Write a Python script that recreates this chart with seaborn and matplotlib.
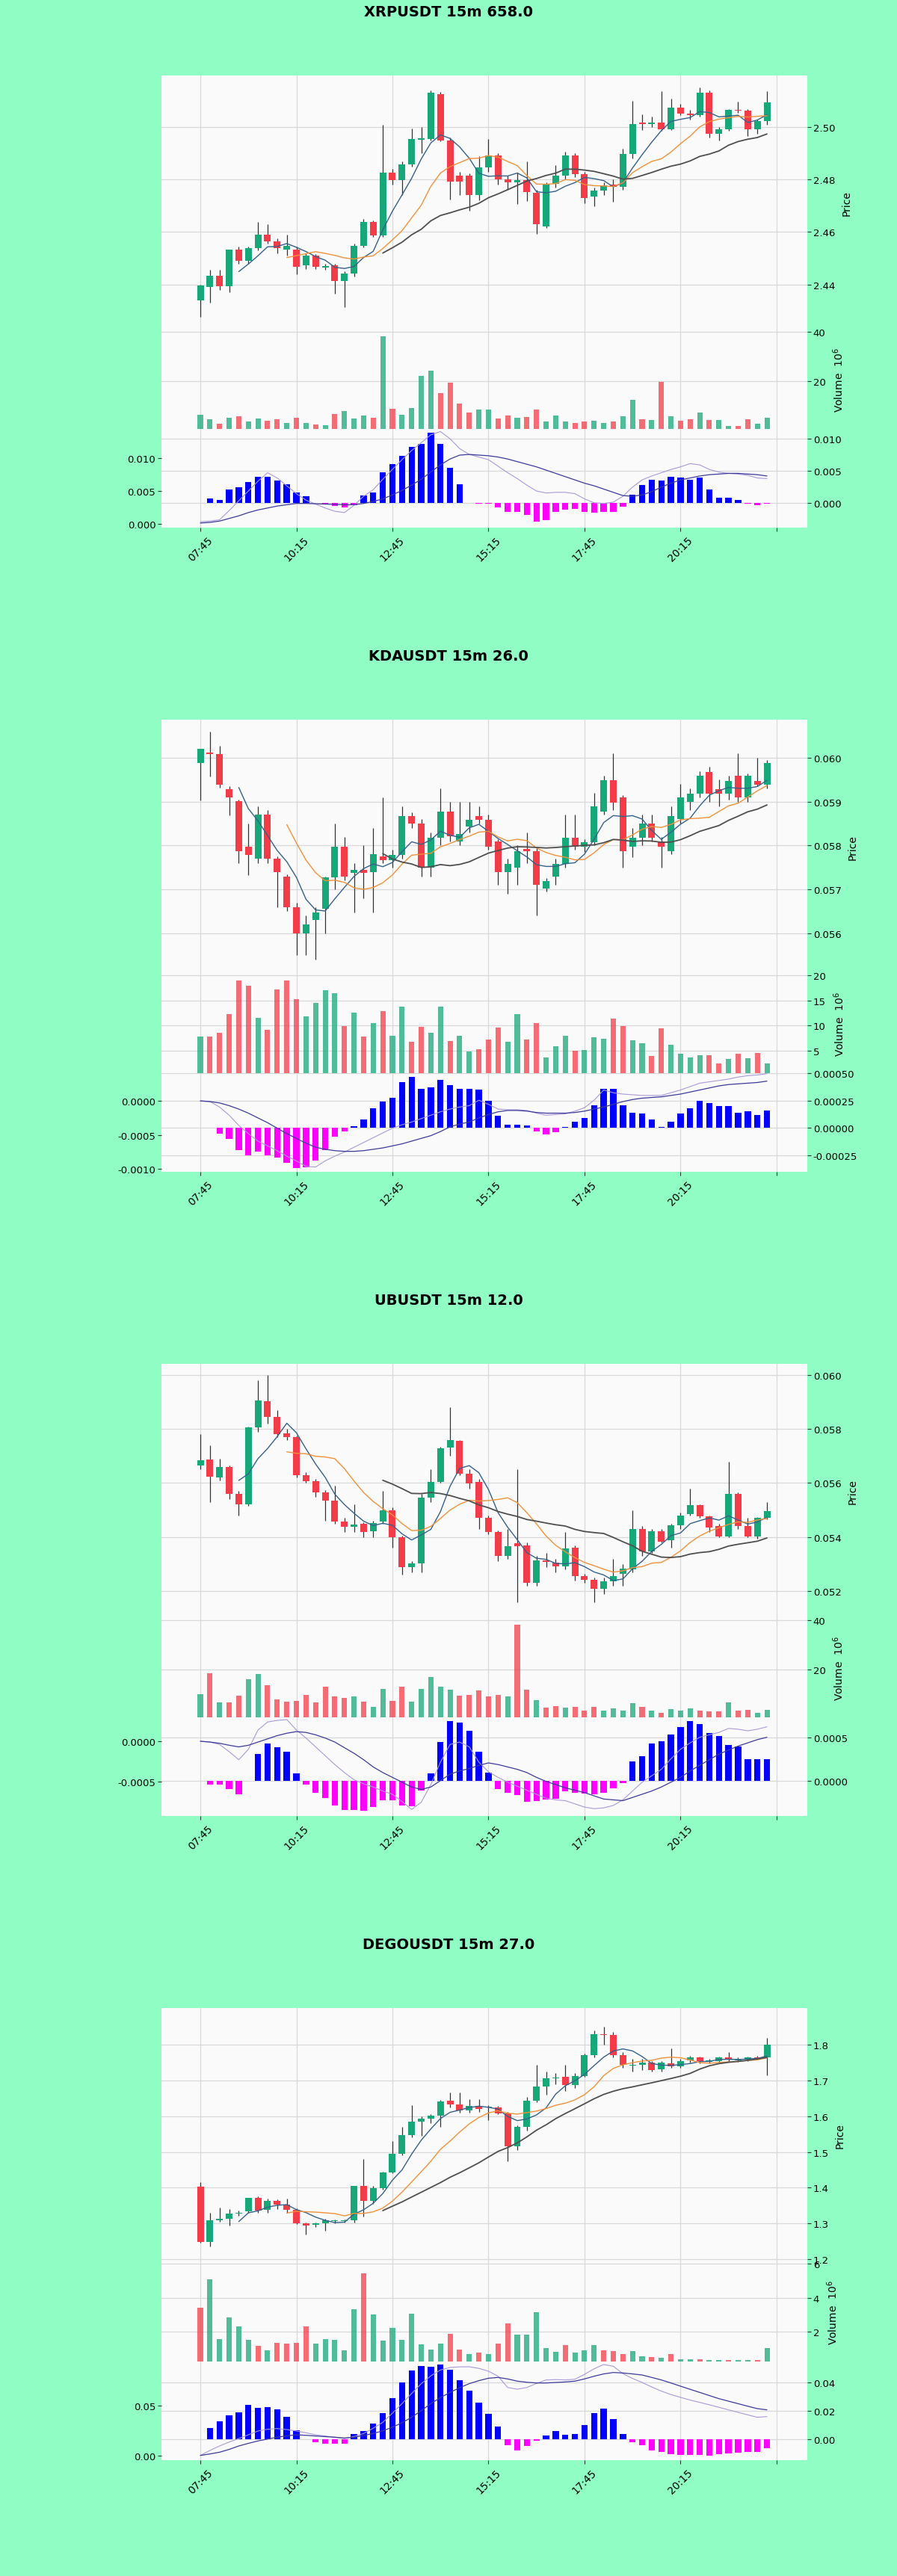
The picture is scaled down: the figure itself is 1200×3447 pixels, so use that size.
import numpy as np
import pandas as pd
import seaborn as sns
import matplotlib.pyplot as plt
from matplotlib.ticker import FormatStrFormatter

# Farben
BG = '#90fdc4'
PANEL = '#fafafa'
UP = '#17a87a'
DOWN = '#f23c47'
MA_COLORS = ['#35608a', '#f0913a', '#4f4f4f']
MACD_LIGHT = '#ab98d8'
MACD_DARK = '#3c3a99'

time_ticks = [0, 10, 20, 30, 40, 50, 60]
time_labels = ['07:45', '10:15', '12:45', '15:15', '17:45', '20:15', '']

# ---------------- XRPUSDT ----------------
xrp_open = [2.4338, 2.4390, 2.4433, 2.4392, 2.4534, 2.4491, 2.4539, 2.4591, 2.4563, 2.4534,
            2.4534, 2.4472, 2.4510, 2.4465, 2.4472, 2.4414, 2.4443, 2.4548, 2.4639, 2.4587,
            2.4826, 2.4797, 2.4859, 2.4953, 2.4955, 2.5127, 2.4950, 2.4816, 2.4816, 2.4740,
            2.4845, 2.4893, 2.4802, 2.4788, 2.4797, 2.4749, 2.4620, 2.4783, 2.4816, 2.4893,
            2.4820, 2.4735, 2.4759, 2.4780, 2.4773, 2.4898, 2.5017, 2.5013, 2.5017, 2.4993,
            2.5075, 2.5051, 2.5046, 2.5132, 2.4974, 2.4993, 2.5065, 2.5063, 2.4993, 2.5022]
xrp_high = [2.4400, 2.4455, 2.4455, 2.4534, 2.4545, 2.4545, 2.4639, 2.4630, 2.4575, 2.4590,
            2.4545, 2.4520, 2.4515, 2.4480, 2.4480, 2.4450, 2.4555, 2.4650, 2.4645, 2.5008,
            2.4840, 2.4870, 2.4995, 2.5000, 2.5140, 2.5135, 2.4960, 2.4830, 2.4825, 2.4890,
            2.4955, 2.4900, 2.4815, 2.4826, 2.4869, 2.4760, 2.4790, 2.4855, 2.4905, 2.4900,
            2.4830, 2.4770, 2.4790, 2.4800, 2.4917, 2.5100, 2.5050, 2.5040, 2.5137, 2.5110,
            2.5090, 2.5065, 2.5150, 2.5140, 2.5000, 2.5070, 2.5097, 2.5070, 2.5030, 2.5137]
xrp_low = [2.4276, 2.4330, 2.4380, 2.4370, 2.4480, 2.4480, 2.4530, 2.4555, 2.4520, 2.4510,
           2.4440, 2.4460, 2.4460, 2.4455, 2.4366, 2.4314, 2.4430, 2.4540, 2.4580, 2.4580,
           2.4780, 2.4740, 2.4850, 2.4900, 2.4950, 2.4945, 2.4725, 2.4740, 2.4682, 2.4720,
           2.4830, 2.4780, 2.4760, 2.4707, 2.4717, 2.4592, 2.4615, 2.4770, 2.4800, 2.4810,
           2.4711, 2.4697, 2.4740, 2.4716, 2.4760, 2.4880, 2.4990, 2.5000, 2.4985, 2.4990,
           2.5045, 2.5030, 2.5040, 2.4960, 2.4950, 2.4985, 2.5055, 2.4965, 2.4975, 2.5010]
xrp_close = [2.4395, 2.4433, 2.4392, 2.4534, 2.4491, 2.4539, 2.4591, 2.4563, 2.4539, 2.4548,
             2.4467, 2.4510, 2.4467, 2.4470, 2.4414, 2.4443, 2.4548, 2.4639, 2.4587, 2.4826,
             2.4797, 2.4859, 2.4955, 2.4956, 2.5132, 2.4950, 2.4792, 2.4792, 2.4740, 2.4845,
             2.4893, 2.4802, 2.4788, 2.4797, 2.4751, 2.4630, 2.4783, 2.4816, 2.4893, 2.4820,
             2.4730, 2.4759, 2.4778, 2.4773, 2.4898, 2.5012, 2.5013, 2.5017, 2.4993, 2.5075,
             2.5051, 2.5046, 2.5132, 2.4974, 2.4993, 2.5065, 2.5063, 2.4993, 2.5022, 2.5094]
xrp_vol = [6.4, 4.5, 2.6, 5.2, 5.7, 3.6, 4.7, 3.9, 4.5, 2.9,
           5.2, 2.9, 2.4, 2.1, 6.8, 7.8, 4.9, 6.0, 5.2, 38.2,
           8.8, 6.4, 9.1, 22.0, 24.1, 15.1, 19.5, 10.9, 7.3, 8.6,
           8.6, 4.9, 6.0, 5.2, 5.4, 8.6, 3.6, 6.0, 3.6, 3.1,
           3.6, 3.9, 3.1, 3.6, 5.7, 12.3, 4.5, 4.2, 19.7, 5.7,
           3.9, 4.5, 7.3, 4.2, 4.2, 1.9, 1.9, 4.5, 2.6, 5.2]
# MACD-Werte in Einheiten von 1e-3
xrp_hist = np.array([np.nan, 0.78, 0.5, 2.1, 2.5, 3.3, 4.1, 4.1, 3.5, 3.0,
                     1.7, 1.1, 0.05, -0.05, -0.47, -0.7, -0.3, 1.2, 1.7, 4.8,
                     6.1, 7.4, 8.8, 9.2, 11.0, 9.2, 5.5, 2.9, 0.0, -0.1,
                     -0.1, -0.7, -1.4, -1.4, -1.8, -2.9, -2.6, -1.4, -1.0, -0.9,
                     -1.4, -1.5, -1.4, -1.4, -0.5, 1.3, 2.8, 3.6, 3.5, 4.1,
                     4.0, 3.6, 4.0, 2.1, 0.8, 0.8, 0.5, -0.1, -0.3, -0.1]) * 1e-3
xrp_macd = np.array([0.3, 0.4, 0.6, 2.0, 3.5, 5.0, 6.5, 7.8, 7.0, 5.8,
                     4.6, 3.6, 3.0, 2.4, 1.9, 1.7, 2.8, 4.2, 5.2, 6.8,
                     8.3, 9.8, 11.2, 12.4, 13.6, 14.1, 13.0, 11.5, 10.6, 10.2,
                     9.8, 8.8, 7.8, 6.9, 5.9, 5.0, 4.7, 4.8, 4.8, 4.6,
                     3.8, 3.2, 3.1, 3.3, 4.2, 5.6, 6.7, 7.3, 7.8, 8.3,
                     8.7, 9.2, 9.0, 8.3, 7.9, 7.7, 7.6, 7.4, 7.0, 6.9]) * 1e-3
xrp_signal = np.array([0.1, 0.2, 0.4, 0.8, 1.2, 1.7, 2.1, 2.4, 2.7, 2.9,
                       3.1, 3.1, 3.05, 3.0, 2.95, 2.9, 2.9, 3.1, 3.4, 3.8,
                       4.4, 5.1, 5.9, 6.8, 7.9, 9.0, 9.9, 10.5, 10.6, 10.5,
                       10.4, 10.2, 9.9, 9.5, 9.1, 8.7, 8.2, 7.7, 7.2, 6.7,
                       6.2, 5.8, 5.3, 4.8, 4.3, 4.2, 4.4, 4.9, 5.6, 6.2,
                       6.7, 7.0, 7.3, 7.5, 7.6, 7.7, 7.7, 7.6, 7.5, 7.3]) * 1e-3

# ---------------- KDAUSDT ----------------
kda_open = [0.05989, 0.06012, 0.06009, 0.05929, 0.05901, 0.05798, 0.05770, 0.05870, 0.05770, 0.05730,
            0.05659, 0.05600, 0.05630, 0.05656, 0.05727, 0.05798, 0.05738, 0.05745, 0.05739, 0.05775,
            0.05767, 0.05778, 0.05868, 0.05850, 0.05750, 0.05818, 0.05878, 0.05810, 0.05844, 0.05868,
            0.05858, 0.05810, 0.05739, 0.05750, 0.05792, 0.05787, 0.05702, 0.05730, 0.05759, 0.05818,
            0.05798, 0.05808, 0.05878, 0.05949, 0.05909, 0.05798, 0.05818, 0.05850, 0.05810, 0.05787,
            0.05861, 0.05900, 0.05919, 0.05968, 0.05929, 0.05919, 0.05959, 0.05909, 0.05947, 0.05939]
kda_high = [0.06020, 0.06060, 0.06028, 0.05935, 0.05905, 0.05850, 0.05890, 0.05880, 0.05775, 0.05735,
            0.05670, 0.05640, 0.05660, 0.05730, 0.05850, 0.05820, 0.05760, 0.05800, 0.05840, 0.05910,
            0.05790, 0.05890, 0.05875, 0.05860, 0.05830, 0.05930, 0.05900, 0.05900, 0.05900, 0.05890,
            0.05870, 0.05815, 0.05770, 0.05800, 0.05830, 0.05795, 0.05725, 0.05770, 0.05870, 0.05870,
            0.05815, 0.05920, 0.05960, 0.06010, 0.05915, 0.05840, 0.05870, 0.05870, 0.05820, 0.05890,
            0.05940, 0.05930, 0.05970, 0.05980, 0.05950, 0.05960, 0.06010, 0.05965, 0.06000, 0.05995]
kda_low = [0.05903, 0.05957, 0.05932, 0.05869, 0.05760, 0.05733, 0.05760, 0.05760, 0.05660, 0.05650,
           0.05551, 0.05551, 0.05540, 0.05600, 0.05700, 0.05720, 0.05648, 0.05680, 0.05648, 0.05760,
           0.05750, 0.05770, 0.05840, 0.05730, 0.05730, 0.05800, 0.05810, 0.05800, 0.05830, 0.05850,
           0.05790, 0.05710, 0.05690, 0.05710, 0.05760, 0.05640, 0.05695, 0.05710, 0.05750, 0.05790,
           0.05785, 0.05800, 0.05870, 0.05880, 0.05750, 0.05773, 0.05800, 0.05810, 0.05750, 0.05780,
           0.05850, 0.05880, 0.05910, 0.05900, 0.05890, 0.05905, 0.05900, 0.05900, 0.05935, 0.05930]
kda_close = [0.06020, 0.06008, 0.05938, 0.05909, 0.05787, 0.05778, 0.05870, 0.05770, 0.05739, 0.05659,
             0.05600, 0.05620, 0.05648, 0.05727, 0.05798, 0.05730, 0.05745, 0.05737, 0.05780, 0.05767,
             0.05778, 0.05868, 0.05850, 0.05750, 0.05818, 0.05878, 0.05821, 0.05827, 0.05858, 0.05858,
             0.05798, 0.05739, 0.05759, 0.05787, 0.05787, 0.05710, 0.05719, 0.05759, 0.05818, 0.05798,
             0.05808, 0.05889, 0.05949, 0.05898, 0.05787, 0.05818, 0.05850, 0.05818, 0.05798, 0.05868,
             0.05909, 0.05919, 0.05959, 0.05919, 0.05919, 0.05947, 0.05909, 0.05959, 0.05939, 0.05989]
kda_vol = [7.8, 7.8, 8.5, 12.2, 19.0, 17.9, 11.5, 9.2, 17.2, 19.0,
           15.3, 11.8, 14.5, 17.0, 16.4, 9.9, 12.5, 7.8, 10.5, 12.9,
           8.0, 13.8, 6.8, 9.8, 8.6, 13.8, 6.9, 7.9, 4.8, 5.3,
           7.2, 9.6, 6.7, 12.3, 7.2, 10.4, 3.7, 5.8, 7.9, 4.9,
           5.1, 7.6, 7.4, 11.4, 9.9, 7.1, 6.5, 3.9, 9.4, 6.2,
           4.3, 3.7, 4.1, 4.1, 2.5, 3.3, 4.3, 3.5, 4.5, 2.5]
# MACD-Werte in Einheiten von 1e-4
kda_hist = np.array([np.nan, 0.0, -0.5, -1.0, -2.0, -2.5, -2.2, -2.5, -2.7, -3.2,
                     -3.7, -3.6, -3.0, -2.0, -0.8, -0.3, 0.14, 0.75, 1.8, 2.4,
                     2.8, 4.2, 4.7, 3.6, 3.7, 4.4, 3.9, 3.6, 3.6, 3.5,
                     2.5, 1.1, 0.3, 0.3, 0.2, -0.3, -0.6, -0.4, 0.1, 0.6,
                     0.9, 2.1, 3.6, 3.6, 2.1, 1.4, 1.3, 0.75, 0.1, 0.6,
                     1.3, 1.8, 2.5, 2.3, 2.0, 2.0, 1.4, 1.5, 1.2, 1.6]) * 1e-4
kda_macd = np.array([0.0, -0.1, -0.9, -2.1, -3.6, -4.8, -5.9, -6.6, -7.3, -8.1,
                     -8.8, -9.6, -9.7, -8.8, -8.1, -7.5, -6.8, -6.1, -5.4, -4.7,
                     -4.0, -3.5, -3.1, -2.6, -2.1, -1.6, -1.2, -0.9, -0.7, 0.1,
                     -0.5, -1.2, -1.3, -1.3, -1.4, -1.8, -2.1, -2.0, -1.9, -1.5,
                     -1.0, 0.1, 1.6, 1.2, 1.0, 0.9, 0.8, 0.8, 0.8, 1.2,
                     1.6, 2.1, 2.6, 2.8, 3.0, 3.2, 3.5, 3.7, 3.8, 4.0]) * 1e-4
kda_signal = np.array([0.0, -0.1, -0.3, -0.7, -1.2, -1.8, -2.5, -3.2, -4.0, -4.8,
                       -5.5, -6.2, -6.8, -7.1, -7.3, -7.4, -7.4, -7.3, -7.1, -6.9,
                       -6.6, -6.3, -5.9, -5.5, -5.1, -4.5, -3.8, -3.4, -3.1, -2.5,
                       -2.0, -1.6, -1.4, -1.4, -1.5, -1.7, -1.8, -1.8, -1.8, -1.7,
                       -1.5, -1.2, -0.9, -0.5, -0.1, 0.2, 0.4, 0.5, 0.6, 0.8,
                       1.0, 1.3, 1.6, 1.9, 2.2, 2.4, 2.5, 2.6, 2.7, 2.9]) * 1e-4

# ---------------- UBUSDT ----------------
ub_open = [0.05665, 0.05688, 0.05621, 0.05658, 0.05561, 0.05521, 0.05806, 0.05903, 0.05845, 0.05785,
           0.05769, 0.05629, 0.05608, 0.05564, 0.05535, 0.05458, 0.05437, 0.05449, 0.05421, 0.05458,
           0.05500, 0.05400, 0.05289, 0.05304, 0.05547, 0.05603, 0.05730, 0.05756, 0.05635, 0.05603,
           0.05472, 0.05418, 0.05329, 0.05376, 0.05370, 0.05232, 0.05315, 0.05306, 0.05292, 0.05361,
           0.05255, 0.05241, 0.05209, 0.05237, 0.05264, 0.05280, 0.05430, 0.05347, 0.05421, 0.05389,
           0.05444, 0.05486, 0.05518, 0.05477, 0.05440, 0.05403, 0.05560, 0.05440, 0.05403, 0.05472]
ub_high = [0.05780, 0.05740, 0.05690, 0.05665, 0.05570, 0.05810, 0.05980, 0.06000, 0.05870, 0.05800,
           0.05775, 0.05640, 0.05615, 0.05575, 0.05590, 0.05470, 0.05520, 0.05455, 0.05460, 0.05570,
           0.05510, 0.05405, 0.05310, 0.05560, 0.05650, 0.05735, 0.05880, 0.05760, 0.05650, 0.05615,
           0.05480, 0.05425, 0.05430, 0.05650, 0.05380, 0.05330, 0.05340, 0.05320, 0.05420, 0.05370,
           0.05265, 0.05250, 0.05250, 0.05320, 0.05300, 0.05500, 0.05440, 0.05430, 0.05430, 0.05450,
           0.05490, 0.05580, 0.05520, 0.05480, 0.05450, 0.05680, 0.05565, 0.05470, 0.05475, 0.05530]
ub_low = [0.05650, 0.05530, 0.05610, 0.05540, 0.05480, 0.05515, 0.05790, 0.05820, 0.05770, 0.05760,
          0.05620, 0.05600, 0.05550, 0.05460, 0.05450, 0.05420, 0.05420, 0.05400, 0.05400, 0.05450,
          0.05360, 0.05260, 0.05270, 0.05270, 0.05530, 0.05600, 0.05700, 0.05630, 0.05580, 0.05430,
          0.05410, 0.05310, 0.05320, 0.05160, 0.05220, 0.05220, 0.05290, 0.05270, 0.05280, 0.05240,
          0.05230, 0.05160, 0.05190, 0.05220, 0.05220, 0.05270, 0.05330, 0.05340, 0.05380, 0.05360,
          0.05430, 0.05480, 0.05470, 0.05420, 0.05400, 0.05400, 0.05430, 0.05400, 0.05395, 0.05465]
ub_close = [0.05684, 0.05624, 0.05658, 0.05561, 0.05521, 0.05806, 0.05905, 0.05845, 0.05782, 0.05769,
            0.05629, 0.05608, 0.05564, 0.05535, 0.05458, 0.05437, 0.05447, 0.05418, 0.05453, 0.05500,
            0.05400, 0.05289, 0.05304, 0.05547, 0.05603, 0.05728, 0.05758, 0.05635, 0.05598, 0.05472,
            0.05418, 0.05329, 0.05366, 0.05366, 0.05232, 0.05315, 0.05308, 0.05292, 0.05357, 0.05255,
            0.05241, 0.05209, 0.05237, 0.05255, 0.05283, 0.05430, 0.05347, 0.05421, 0.05384, 0.05444,
            0.05481, 0.05518, 0.05477, 0.05435, 0.05403, 0.05560, 0.05440, 0.05403, 0.05472, 0.05495]
ub_vol = [9.9, 18.3, 6.5, 6.5, 9.2, 16.0, 18.1, 13.5, 7.7, 6.9,
          7.2, 9.7, 6.7, 12.9, 8.9, 8.5, 8.9, 7.0, 4.6, 11.9,
          7.2, 13.0, 7.0, 12.1, 16.8, 12.9, 11.7, 9.2, 9.7, 11.4,
          9.1, 9.5, 9.0, 38.0, 11.7, 7.4, 4.4, 4.9, 4.3, 4.6,
          3.1, 4.6, 3.1, 4.1, 3.3, 6.2, 4.6, 3.2, 2.4, 3.8,
          3.3, 4.0, 3.1, 2.9, 2.9, 6.7, 3.1, 3.5, 2.4, 3.5]
ub_hist = np.array([np.nan, -0.4, -0.4, -0.9, -1.5, 0.0, 3.1, 4.3, 3.9, 3.4,
                    0.9, -0.4, -1.3, -1.9, -2.8, -3.3, -3.3, -3.4, -3.0, -2.2,
                    -2.2, -2.8, -2.9, -1.1, 0.9, 4.5, 6.9, 6.7, 5.8, 3.4,
                    1.0, -0.9, -1.3, -1.6, -2.4, -2.3, -2.1, -2.0, -1.2, -1.3,
                    -1.4, -1.5, -1.3, -0.8, -0.2, 2.3, 2.9, 4.3, 4.6, 5.4,
                    6.2, 6.9, 6.6, 5.5, 5.2, 4.2, 4.0, 2.5, 2.5, 2.5]) * 1e-4
ub_macd = np.array([0.0, -0.1, -0.4, -1.3, -2.3, -1.0, 1.4, 2.4, 2.6, 2.7,
                    1.4, 0.4, -0.7, -1.8, -2.9, -3.9, -4.8, -5.3, -5.7, -6.2,
                    -6.6, -7.5, -8.5, -7.6, -5.4, -2.6, -0.4, -0.1, -0.7, -2.6,
                    -3.8, -4.5, -5.1, -5.6, -6.1, -6.6, -7.1, -7.3, -7.4, -7.8,
                    -8.2, -8.4, -8.3, -8.0, -7.3, -6.2, -5.1, -4.3, -3.5, -2.2,
                    -1.0, -0.2, 0.5, 0.8, 1.1, 1.6, 1.5, 1.3, 1.5, 1.8]) * 1e-4
ub_signal = np.array([0.0, -0.1, -0.25, -0.5, -0.7, -0.5, -0.1, 0.3, 0.7, 1.0,
                      1.2, 1.1, 0.8, 0.4, -0.1, -0.8, -1.5, -2.3, -3.2, -3.9,
                      -4.5, -5.1, -5.7, -6.0, -5.7, -4.9, -4.1, -3.7, -3.4, -3.0,
                      -2.7, -2.9, -3.2, -3.5, -3.9, -4.5, -5.0, -5.4, -5.8, -6.1,
                      -6.4, -6.8, -7.2, -7.3, -7.4, -7.0, -6.6, -6.2, -5.7, -5.1,
                      -4.5, -3.7, -3.0, -2.3, -1.6, -1.1, -0.6, -0.2, 0.2, 0.5]) * 1e-4

# ---------------- DEGOUSDT ----------------
dego_open = [1.402, 1.249, 1.309, 1.312, 1.327, 1.334, 1.371, 1.339, 1.364, 1.353,
             1.339, 1.301, 1.296, 1.301, 1.306, 1.306, 1.308, 1.404, 1.364, 1.399,
             1.443, 1.496, 1.547, 1.585, 1.594, 1.601, 1.643, 1.634, 1.617, 1.629,
             1.624, 1.624, 1.608, 1.515, 1.570, 1.643, 1.683, 1.706, 1.711, 1.687,
             1.713, 1.772, 1.829, 1.828, 1.772, 1.742, 1.744, 1.750, 1.732, 1.748,
             1.739, 1.757, 1.765, 1.753, 1.755, 1.765, 1.757, 1.759, 1.764, 1.765]
dego_high = [1.415, 1.330, 1.345, 1.340, 1.335, 1.372, 1.375, 1.370, 1.368, 1.370,
             1.342, 1.303, 1.303, 1.312, 1.310, 1.310, 1.405, 1.480, 1.405, 1.445,
             1.530, 1.570, 1.630, 1.600, 1.605, 1.645, 1.667, 1.667, 1.647, 1.647,
             1.630, 1.628, 1.612, 1.575, 1.655, 1.744, 1.725, 1.720, 1.745, 1.720,
             1.775, 1.840, 1.850, 1.835, 1.780, 1.760, 1.760, 1.755, 1.755, 1.790,
             1.760, 1.770, 1.768, 1.760, 1.768, 1.780, 1.765, 1.768, 1.770, 1.820]
dego_low = [1.245, 1.235, 1.305, 1.295, 1.322, 1.330, 1.330, 1.330, 1.340, 1.330,
            1.298, 1.270, 1.290, 1.280, 1.300, 1.302, 1.302, 1.320, 1.355, 1.395,
            1.440, 1.490, 1.540, 1.545, 1.580, 1.570, 1.625, 1.610, 1.610, 1.612,
            1.590, 1.605, 1.475, 1.505, 1.560, 1.640, 1.660, 1.690, 1.670, 1.680,
            1.710, 1.765, 1.800, 1.765, 1.735, 1.725, 1.730, 1.725, 1.725, 1.735,
            1.735, 1.750, 1.748, 1.748, 1.750, 1.752, 1.752, 1.755, 1.758, 1.715]
dego_close = [1.249, 1.308, 1.312, 1.327, 1.330, 1.371, 1.336, 1.364, 1.353, 1.339,
              1.301, 1.294, 1.301, 1.308, 1.307, 1.308, 1.404, 1.364, 1.399, 1.443,
              1.496, 1.547, 1.585, 1.594, 1.601, 1.641, 1.634, 1.617, 1.629, 1.620,
              1.626, 1.608, 1.515, 1.570, 1.643, 1.683, 1.706, 1.708, 1.687, 1.713,
              1.772, 1.829, 1.827, 1.772, 1.743, 1.744, 1.750, 1.729, 1.750, 1.739,
              1.755, 1.765, 1.755, 1.755, 1.765, 1.758, 1.760, 1.764, 1.762, 1.800]
dego_vol = [3.40, 5.07, 1.57, 2.86, 2.31, 1.54, 1.17, 0.93, 1.33, 1.29,
            1.36, 2.31, 1.31, 1.57, 1.54, 0.93, 3.33, 5.43, 3.00, 1.50,
            2.21, 1.54, 3.07, 1.24, 0.97, 1.29, 1.86, 0.97, 0.69, 0.77,
            0.71, 1.29, 2.50, 1.83, 1.81, 3.14, 1.03, 0.83, 1.20, 0.77,
            0.91, 1.20, 0.93, 0.86, 0.71, 0.86, 0.57, 0.50, 0.46, 0.67,
            0.36, 0.36, 0.36, 0.34, 0.34, 0.34, 0.33, 0.33, 0.33, 1.04]
# MACD-Werte in Einheiten von 1e-3
dego_hist = np.array([np.nan, 7.8, 12.7, 16.8, 19.0, 24.3, 22.1, 22.5, 20.7, 15.8,
                      6.0, 0.0, -2.3, -3.5, -3.5, -3.5, 3.5, 5.7, 11.0, 18.4,
                      29.0, 39.8, 48.5, 51.7, 51.3, 52.6, 49.0, 41.4, 34.3, 25.7,
                      17.7, 8.7, -4.6, -8.0, -5.0, -1.4, 2.5, 5.7, 3.0, 3.5,
                      9.6, 18.4, 21.6, 14.0, 3.4, -2.3, -4.6, -8.1, -9.4, -10.6,
                      -11.3, -11.2, -11.2, -11.7, -10.6, -10.3, -9.6, -9.4, -9.4, -6.7]) * 1e-3
dego_macd = np.array([0.5, 5.5, 9.9, 13.8, 17.3, 21.0, 24.8, 26.5, 27.2, 26.2,
                      24.8, 23.0, 21.0, 19.8, 18.6, 17.3, 19.3, 22.3, 27.5, 33.4,
                      42.5, 52.0, 62.0, 71.8, 79.5, 85.4, 87.9, 88.5, 88.6, 87.0,
                      84.2, 79.2, 68.0, 66.3, 68.0, 72.0, 75.5, 75.8, 75.5, 76.2,
                      81.0, 86.6, 90.8, 89.1, 81.7, 77.0, 73.0, 68.5, 64.4, 61.0,
                      58.2, 55.5, 53.2, 50.8, 48.3, 45.8, 43.3, 40.8, 38.4, 39.1]) * 1e-3
dego_signal = np.array([0.5, 2.0, 3.7, 6.5, 9.9, 12.5, 14.9, 16.8, 18.6, 20.0,
                        21.0, 20.5, 19.8, 19.2, 18.6, 17.8, 18.6, 20.3, 22.3, 25.0,
                        28.5, 33.0, 38.4, 45.0, 52.0, 58.0, 63.1, 67.8, 71.8, 74.8,
                        77.2, 78.0, 76.5, 74.3, 73.2, 72.5, 72.5, 73.0, 73.5, 74.3,
                        76.5, 79.2, 81.5, 82.9, 82.4, 81.5, 80.4, 78.0, 75.5, 72.5,
                        69.3, 66.2, 63.1, 60.0, 56.9, 54.4, 51.9, 49.4, 47.0, 45.8]) * 1e-3

charts = [
    dict(title='XRPUSDT 15m 658.0', o=xrp_open, h=xrp_high, l=xrp_low, c=xrp_close,
         vol=xrp_vol, hist=xrp_hist, macd=xrp_macd, signal=xrp_signal,
         p_lim=(2.4225, 2.5197), p_ticks=[2.44, 2.46, 2.48, 2.50], p_fmt='%.2f',
         v_lim=(0.6, 40.6), v_ticks=[20, 40],
         h_lim=(-0.0038, 0.01155), h_ticks=[0.0, 0.005, 0.010], h_fmt='%.3f',
         m_lim=(-0.0006, 0.0145), m_ticks=[0.0, 0.005, 0.010], m_fmt='%.3f'),
    dict(title='KDAUSDT 15m 26.0', o=kda_open, h=kda_high, l=kda_low, c=kda_close,
         vol=kda_vol, hist=kda_hist, macd=kda_macd, signal=kda_signal,
         p_lim=(0.05506, 0.06087), p_ticks=[0.056, 0.057, 0.058, 0.059, 0.060], p_fmt='%.3f',
         v_lim=(0.5, 20.15), v_ticks=[5, 10, 15, 20],
         h_lim=(-0.000402, 0.000503), h_ticks=[-0.00025, 0.0, 0.00025, 0.0005], h_fmt='%.5f',
         m_lim=(-0.00104, 0.000407), m_ticks=[-0.001, -0.0005, 0.0], m_fmt='%.4f'),
    dict(title='UBUSDT 15m 12.0', o=ub_open, h=ub_high, l=ub_low, c=ub_close,
         vol=ub_vol, hist=ub_hist, macd=ub_macd, signal=ub_signal,
         p_lim=(0.05098, 0.06041), p_ticks=[0.052, 0.054, 0.056, 0.058, 0.060], p_fmt='%.3f',
         v_lim=(0.5, 40.5), v_ticks=[20, 40],
         h_lim=(-0.0004, 0.000734), h_ticks=[0.0, 0.0005], h_fmt='%.4f',
         m_lim=(-0.000931, 0.000298), m_ticks=[-0.0005, 0.0], m_fmt='%.4f'),
    dict(title='DEGOUSDT 15m 27.0', o=dego_open, h=dego_high, l=dego_low, c=dego_close,
         vol=dego_vol, hist=dego_hist, macd=dego_macd, signal=dego_signal,
         p_lim=(1.1895, 1.903), p_ticks=[1.2, 1.3, 1.4, 1.5, 1.6, 1.7, 1.8], p_fmt='%.1f',
         v_lim=(0.25, 6.05), v_ticks=[2, 4, 6],
         h_lim=(-0.015, 0.0548), h_ticks=[0.0, 0.02, 0.04], h_fmt='%.2f',
         m_lim=(-0.0042, 0.0938), m_ticks=[0.0, 0.05], m_fmt='%.2f'),
]

sns.set_theme(style='whitegrid', rc={'figure.facecolor': BG, 'axes.facecolor': PANEL,
                                     'grid.color': '#d9d9d9'})
plt.rcParams['font.family'] = ['DejaVu Sans']

FIG_W, FIG_H, GROUP_H = 1200, 3448, 862
fig = plt.figure(figsize=(FIG_W / 100, FIG_H / 100), dpi=100, facecolor=BG)

RIGHT_TICKS = dict(axis='y', which='both', left=False, right=True, length=3.5,
                   width=0.8, color='#333333', labelsize=9.5, labelcolor='black',
                   labelleft=False, labelright=True, pad=2)


def panel_rect(base, top, bottom):
    return [216 / FIG_W, 1 - (base + bottom) / FIG_H, 864 / FIG_W, (bottom - top) / FIG_H]


def basic_style(ax):
    ax.set_facecolor(PANEL)
    for s in ax.spines.values():
        s.set_visible(False)
    ax.grid(True, color='#d9d9d9', linewidth=0.9)
    ax.set_xlim(-4.05, 63.2)
    ax.set_xticks(time_ticks)
    ax.tick_params(**RIGHT_TICKS)
    ax.tick_params(axis='x', bottom=False, labelbottom=False)


for k, ch in enumerate(charts):
    base = GROUP_H * k
    o, h, l, c = (np.array(ch[key]) for key in ('o', 'h', 'l', 'c'))
    x = np.arange(len(o))
    colors = np.where(c >= o, UP, DOWN)

    fig.text(0.5, 1 - (base + 17) / FIG_H, ch['title'], ha='center', va='center',
             fontsize=14, fontweight='bold', color='black')

    # Kerzen
    ax_p = fig.add_axes(panel_rect(base, 102, 443))
    basic_style(ax_p)
    ax_p.vlines(x, l, h, color='#333333', linewidth=0.9, zorder=2)
    span = ch['p_lim'][1] - ch['p_lim'][0]
    body_h = np.maximum(np.abs(c - o), span * 0.004)
    ax_p.bar(x, body_h, bottom=np.minimum(o, c), width=0.7, color=colors,
             linewidth=0, zorder=3)
    close = pd.Series(c)
    for n, col, lw in zip((5, 10, 20), MA_COLORS, (1.0, 1.0, 1.3)):
        sns.lineplot(x=x, y=close.rolling(n).mean().values, ax=ax_p, color=col,
                     linewidth=lw, zorder=4)
    ax_p.set_ylim(*ch['p_lim'])
    ax_p.set_yticks(ch['p_ticks'])
    ax_p.yaxis.set_major_formatter(FormatStrFormatter(ch['p_fmt']))
    ax_p.yaxis.set_label_position('right')
    ax_p.set_ylabel('Price', fontsize=10, color='black', labelpad=6)
    ax_p.set_xlabel('')

    # Volumen
    ax_v = fig.add_axes(panel_rect(base, 443, 575))
    basic_style(ax_v)
    ax_v.bar(x, ch['vol'], width=0.55, color=colors, alpha=0.75, linewidth=0, zorder=3)
    ax_v.set_ylim(*ch['v_lim'])
    ax_v.set_yticks(ch['v_ticks'])
    ax_v.yaxis.set_major_formatter(FormatStrFormatter('%d'))
    ax_v.yaxis.set_label_position('right')
    ax_v.set_ylabel('Volume  $10^{6}$', fontsize=10, color='black', labelpad=6)

    # MACD: Histogramm rechts, Linien links
    ax_m = fig.add_axes(panel_rect(base, 575, 707))
    basic_style(ax_m)
    ax_l = ax_m.twinx()
    ax_m.yaxis.tick_right()
    ax_m.tick_params(**RIGHT_TICKS)

    hist = ch['hist']
    hcol = np.where(hist >= 0, '#0000ff', '#ff00ff')
    ax_m.bar(x, np.nan_to_num(hist), width=0.65, color=hcol, linewidth=0, zorder=3)
    ax_m.set_ylim(*ch['h_lim'])
    ax_m.set_yticks(ch['h_ticks'])
    ax_m.yaxis.set_major_formatter(FormatStrFormatter(ch['h_fmt']))
    ax_m.set_xticks(time_ticks)
    ax_m.set_xticklabels(time_labels, rotation=45, ha='center')
    ax_m.tick_params(axis='x', bottom=True, labelbottom=True, length=3.5, width=0.8,
                     color='#333333', labelsize=10, labelcolor='black', pad=3)

    ax_l.patch.set_visible(False)
    for s in ax_l.spines.values():
        s.set_visible(False)
    ax_l.grid(False)
    sns.lineplot(x=x, y=ch['macd'], ax=ax_l, color=MACD_LIGHT, linewidth=0.8, zorder=5)
    sns.lineplot(x=x, y=ch['signal'], ax=ax_l, color=MACD_DARK, linewidth=0.9, zorder=6)
    ax_l.set_xlim(-4.05, 63.2)
    ax_l.set_ylim(*ch['m_lim'])
    ax_l.yaxis.tick_left()
    ax_l.set_yticks(ch['m_ticks'])
    ax_l.yaxis.set_major_formatter(FormatStrFormatter(ch['m_fmt']))
    ax_l.tick_params(axis='y', left=True, right=False, labelleft=True, labelright=False,
                     length=3.5, width=0.8, color='#333333', labelsize=9.5,
                     labelcolor='black', pad=2)
    ax_l.set_ylabel('')

fig.savefig('out.png', dpi=100, facecolor=BG)
